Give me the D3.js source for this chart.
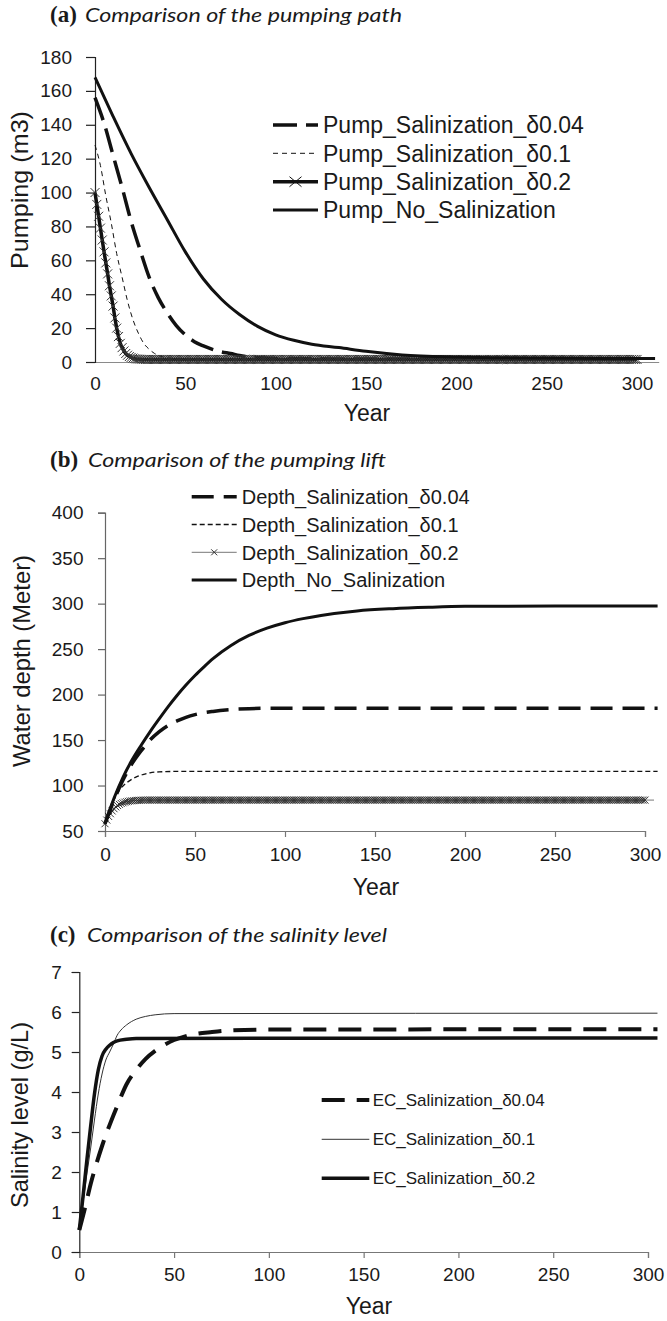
<!DOCTYPE html>
<html>
<head>
<meta charset="utf-8">
<script src="https://cdn.jsdelivr.net/npm/d3@7"></script>
<style>
  body { margin: 0; background: #fff; }
  svg text { fill: #1a1a1a; }
</style>
</head>
<body>
<svg id="chart" width="667" height="1321"></svg>
<script>
// ---------- data ----------
const yearTicks = [0, 50, 100, 150, 200, 250, 300];
const pumpTicks = [0, 20, 40, 60, 80, 100, 120, 140, 160, 180];
const depthTicks = [50, 100, 150, 200, 250, 300, 350, 400];
const ecTicks = [0, 1, 2, 3, 4, 5, 6, 7];

const pumpLabels = ["Pump_Salinization_δ0.04", "Pump_Salinization_δ0.1", "Pump_Salinization_δ0.2", "Pump_No_Salinization"];
const depthLabels = ["Depth_Salinization_δ0.04", "Depth_Salinization_δ0.1", "Depth_Salinization_δ0.2", "Depth_No_Salinization"];
const ecLabels = ["EC_Salinization_δ0.04", "EC_Salinization_δ0.1", "EC_Salinization_δ0.2"];

// (a) pumping, m3
const pumpNoSalYears = [0, 10, 20, 30, 40, 50, 60, 70, 80, 90, 100, 110, 120, 135, 150, 170, 200, 250, 310];
const pumpNoSal = [168, 145, 123, 103, 84, 65, 49, 37, 28, 21, 16, 12.8, 10.5, 8.5, 6.3, 4.2, 3, 2.3, 2];
const pumpD004Years = [0, 5, 10, 15, 20, 25, 30, 35, 40, 45, 50, 55, 60, 65, 70, 75, 80, 90, 100, 150, 200, 300];
const pumpD004 = [156, 141, 122, 103, 83, 66, 50, 38, 29, 21.5, 16, 12, 9.5, 7.5, 6, 5, 3.8, 2.6, 2.1, 1.8, 1.8, 1.8];
const pumpD01Years = [0, 3, 6, 9, 12, 15, 18, 21, 24, 27, 30, 33, 36, 40, 50, 100, 200, 300];
const pumpD01 = [128, 116, 98, 82, 64, 50, 36, 25, 17, 11, 7.5, 5, 3.5, 2.5, 1.8, 1.8, 1.8, 1.8];
// one value per year, year 0 .. 300
const pumpD02 = [
  100, 93, 86, 79, 72, 65, 58.5, 52, 45, 39, 33, 26, 20, 15, 11, 8.5, 6.5, 5, 4, 3.2, 2.7, 2.3, 2, 1.8, 1.7, 1.6,
  1.5, 1.5, 1.5, 1.5, 1.5, 1.5, 1.5, 1.5, 1.5, 1.5, 1.5, 1.5, 1.5, 1.5, 1.5, 1.5, 1.5, 1.5, 1.5, 1.5, 1.5, 1.5, 1.5, 1.5, 1.5,
  1.5, 1.5, 1.5, 1.5, 1.5, 1.5, 1.5, 1.5, 1.5, 1.5, 1.5, 1.5, 1.5, 1.5, 1.5, 1.5, 1.5, 1.5, 1.5, 1.5, 1.5, 1.5, 1.5, 1.5, 1.5,
  1.5, 1.5, 1.5, 1.5, 1.5, 1.5, 1.5, 1.5, 1.5, 1.5, 1.5, 1.5, 1.5, 1.5, 1.5, 1.5, 1.5, 1.5, 1.5, 1.5, 1.5, 1.5, 1.5, 1.5, 1.5,
  1.5, 1.5, 1.5, 1.5, 1.5, 1.5, 1.5, 1.5, 1.5, 1.5, 1.5, 1.5, 1.5, 1.5, 1.5, 1.5, 1.5, 1.5, 1.5, 1.5, 1.5, 1.5, 1.5, 1.5, 1.5,
  1.5, 1.5, 1.5, 1.5, 1.5, 1.5, 1.5, 1.5, 1.5, 1.5, 1.5, 1.5, 1.5, 1.5, 1.5, 1.5, 1.5, 1.5, 1.5, 1.5, 1.5, 1.5, 1.5, 1.5, 1.5,
  1.5, 1.5, 1.5, 1.5, 1.5, 1.5, 1.5, 1.5, 1.5, 1.5, 1.5, 1.5, 1.5, 1.5, 1.5, 1.5, 1.5, 1.5, 1.5, 1.5, 1.5, 1.5, 1.5, 1.5, 1.5,
  1.5, 1.5, 1.5, 1.5, 1.5, 1.5, 1.5, 1.5, 1.5, 1.5, 1.5, 1.5, 1.5, 1.5, 1.5, 1.5, 1.5, 1.5, 1.5, 1.5, 1.5, 1.5, 1.5, 1.5, 1.5,
  1.5, 1.5, 1.5, 1.5, 1.5, 1.5, 1.5, 1.5, 1.5, 1.5, 1.5, 1.5, 1.5, 1.5, 1.5, 1.5, 1.5, 1.5, 1.5, 1.5, 1.5, 1.5, 1.5, 1.5, 1.5,
  1.5, 1.5, 1.5, 1.5, 1.5, 1.5, 1.5, 1.5, 1.5, 1.5, 1.5, 1.5, 1.5, 1.5, 1.5, 1.5, 1.5, 1.5, 1.5, 1.5, 1.5, 1.5, 1.5, 1.5, 1.5,
  1.5, 1.5, 1.5, 1.5, 1.5, 1.5, 1.5, 1.5, 1.5, 1.5, 1.5, 1.5, 1.5, 1.5, 1.5, 1.5, 1.5, 1.5, 1.5, 1.5, 1.5, 1.5, 1.5, 1.5, 1.5,
  1.5, 1.5, 1.5, 1.5, 1.5, 1.5, 1.5, 1.5, 1.5, 1.5, 1.5, 1.5, 1.5, 1.5, 1.5, 1.5, 1.5, 1.5, 1.5, 1.5, 1.5, 1.5, 1.5, 1.5, 1.5
];

// (b) water depth, meter
const depthNoSalYears = [0, 5, 10, 15, 20, 25, 30, 35, 40, 45, 50, 55, 60, 70, 80, 90, 100, 110, 120, 140, 160, 180, 200, 250, 307];
const depthNoSal = [58, 86, 109, 128, 144, 159, 173, 186.5, 199, 210.5, 221, 230.5, 239.5, 254, 265, 273, 279, 283.5, 287, 292, 294.5, 296, 297, 297.5, 297.5];
const depthD004Years = [0, 5, 10, 15, 20, 25, 30, 35, 40, 45, 50, 60, 70, 80, 90, 307];
const depthD004 = [58, 84, 106, 124, 138, 150, 159, 166, 171, 175, 178, 181.5, 183.5, 184.5, 185, 185];
const depthD01Years = [0, 2, 4, 6, 8, 10, 12, 15, 18, 21, 25, 30, 40, 307];
const depthD01 = [58, 70, 80, 88, 95, 99.5, 103, 107, 110, 112, 114, 115, 115.5, 115.5];
// one value per year, year 0 .. 300
const depthD02 = [
  58, 62, 66, 69, 72, 74.5, 76.5, 78, 79.3, 80.3, 81, 81.7, 82.2, 82.6, 83, 83.2, 83.4, 83.6, 83.7, 83.8, 83.9,
  84, 84, 84, 84, 84, 84, 84, 84, 84, 84, 84, 84, 84, 84, 84, 84, 84, 84, 84, 84, 84, 84, 84, 84, 84,
  84, 84, 84, 84, 84, 84, 84, 84, 84, 84, 84, 84, 84, 84, 84, 84, 84, 84, 84, 84, 84, 84, 84, 84, 84,
  84, 84, 84, 84, 84, 84, 84, 84, 84, 84, 84, 84, 84, 84, 84, 84, 84, 84, 84, 84, 84, 84, 84, 84, 84,
  84, 84, 84, 84, 84, 84, 84, 84, 84, 84, 84, 84, 84, 84, 84, 84, 84, 84, 84, 84, 84, 84, 84, 84, 84,
  84, 84, 84, 84, 84, 84, 84, 84, 84, 84, 84, 84, 84, 84, 84, 84, 84, 84, 84, 84, 84, 84, 84, 84, 84,
  84, 84, 84, 84, 84, 84, 84, 84, 84, 84, 84, 84, 84, 84, 84, 84, 84, 84, 84, 84, 84, 84, 84, 84, 84,
  84, 84, 84, 84, 84, 84, 84, 84, 84, 84, 84, 84, 84, 84, 84, 84, 84, 84, 84, 84, 84, 84, 84, 84, 84,
  84, 84, 84, 84, 84, 84, 84, 84, 84, 84, 84, 84, 84, 84, 84, 84, 84, 84, 84, 84, 84, 84, 84, 84, 84,
  84, 84, 84, 84, 84, 84, 84, 84, 84, 84, 84, 84, 84, 84, 84, 84, 84, 84, 84, 84, 84, 84, 84, 84, 84,
  84, 84, 84, 84, 84, 84, 84, 84, 84, 84, 84, 84, 84, 84, 84, 84, 84, 84, 84, 84, 84, 84, 84, 84, 84,
  84, 84, 84, 84, 84, 84, 84, 84, 84, 84, 84, 84, 84, 84, 84, 84, 84, 84, 84, 84, 84, 84, 84, 84, 84,
  84, 84, 84, 84, 84
];
const depthD02TailYears = [300, 305];
const depthD02Tail = [84, 84];

// (c) salinity, g/L
const ecD004Years = [0, 3, 6, 9, 12, 15, 20, 25, 30, 35, 40, 45, 50, 55, 60, 70, 80, 100, 305];
const ecD004 = [0.55, 1.1, 1.7, 2.2, 2.65, 3.05, 3.65, 4.2, 4.55, 4.83, 5.03, 5.18, 5.3, 5.38, 5.44, 5.5, 5.54, 5.56, 5.57];
const ecD01Years = [0, 2, 4, 6, 8, 10, 12, 14, 16, 18, 20, 22, 25, 30, 35, 40, 50, 305];
const ecD01 = [0.55, 1.25, 1.95, 2.6, 3.3, 3.95, 4.45, 4.8, 5.0, 5.2, 5.42, 5.55, 5.68, 5.82, 5.89, 5.93, 5.96, 5.97];
const ecD02Years = [0, 2, 4, 6, 8, 10, 12, 14, 16, 18, 20, 25, 30, 305];
const ecD02 = [0.55, 1.4, 2.3, 3.15, 3.95, 4.55, 4.9, 5.07, 5.17, 5.24, 5.28, 5.32, 5.34, 5.35];

// ---------- drawing ----------
const FONT = '"Liberation Sans", Arial, sans-serif';
const INK = "#111";
const svg = d3.select("#chart");

const xA = d3.scaleLinear().domain([0, 312]).range([95, 658.7]);
const yA = d3.scaleLinear().domain([0, 180]).range([362, 57]);
const xB = d3.scaleLinear().domain([0, 300]).range([105, 645]);
const yB = d3.scaleLinear().domain([50, 400]).range([831, 512.7]);
const xC = d3.scaleLinear().domain([0, 300]).range([79.3, 648]);
const yC = d3.scaleLinear().domain([0, 7]).range([1252, 972]);

function addAxis(gen, tx, ty, color) {
  const g = svg.append("g")
    .attr("transform", `translate(${tx},${ty})`)
    .call(gen.tickFormat(d3.format("d")))
    .attr("font-family", FONT)
    .attr("font-size", 19);
  g.select(".domain").attr("stroke", color).attr("stroke-width", 1.2);
  g.selectAll(".tick line").attr("stroke", color).attr("stroke-width", 1.2);
  g.selectAll(".tick text").attr("fill", "#1a1a1a");
  return g;
}

function title(letter, text, x, xi, y, len) {
  svg.append("text").attr("x", x).attr("y", y)
    .style("font-family", '"Liberation Serif", "Times New Roman", serif')
    .style("font-weight", "bold").style("font-size", "23px")
    .text(letter);
  svg.append("text").attr("x", xi).attr("y", y)
    .style("font-family", 'Lato, "Open Sans", sans-serif')
    .style("font-style", "italic").style("font-size", "19px")
    .attr("textLength", len).attr("lengthAdjust", "spacingAndGlyphs")
    .text(text);
}

function yTitle(text, x, y, len) {
  svg.append("text")
    .attr("transform", `translate(${x},${y}) rotate(-90)`)
    .attr("text-anchor", "middle")
    .style("font-family", FONT).style("font-size", "24px")
    .attr("textLength", len).attr("lengthAdjust", "spacingAndGlyphs")
    .text(text);
}

function xTitle(x, y) {
  svg.append("text").attr("x", x).attr("y", y)
    .attr("text-anchor", "middle")
    .style("font-family", FONT).style("font-size", "23px")
    .text("Year");
}

function series(xs, ys, years, values, st) {
  const pts = values.map((v, i) => [years ? years[i] : i, v]);
  const line = d3.line()
    .x(d => xs(d[0])).y(d => ys(d[1]))
    .curve(years ? d3.curveMonotoneX : d3.curveLinear);
  svg.append("path").datum(pts)
    .attr("fill", "none")
    .attr("stroke", st.color || INK)
    .attr("stroke-width", st.width)
    .attr("stroke-dasharray", st.dash || null)
    .attr("stroke-linejoin", "round")
    .attr("d", line);
  return pts;
}

function crossPath(hw, hh) {
  return `M${-hw},${-hh}L${hw},${hh}M${-hw},${hh}L${hw},${-hh}`;
}

function markers(xs, ys, pts, hw, hh, color, w) {
  svg.append("g").selectAll("path").data(pts).join("path")
    .attr("d", crossPath(hw, hh))
    .attr("transform", d => `translate(${xs(d[0])},${ys(d[1])})`)
    .attr("fill", "none").attr("stroke", color).attr("stroke-width", w);
}

function legend(labels, styles, x1, x2, tx, rows, size) {
  labels.forEach((lab, i) => {
    const st = styles[i];
    const y = rows[i];
    svg.append("line").attr("x1", x1).attr("x2", x2).attr("y1", y).attr("y2", y)
      .attr("stroke", st.color || INK).attr("stroke-width", st.width)
      .attr("stroke-dasharray", st.dash || null);
    if (st.mark) {
      svg.append("path").attr("d", crossPath(st.mark[0], st.mark[1]))
        .attr("transform", `translate(${(x1 + x2) / 2},${y})`)
        .attr("fill", "none").attr("stroke", st.markColor || INK).attr("stroke-width", 1);
    }
    svg.append("text").attr("x", tx).attr("y", y).attr("dy", "0.36em")
      .style("font-family", FONT).style("font-size", size + "px")
      .text(lab);
  });
}

// ----- panel (a) -----
title("(a)", "Comparison of the pumping path", 50, 85, 22, 317);
addAxis(d3.axisBottom(xA).tickValues(yearTicks).tickSize(0).tickSizeOuter(0).tickPadding(15), 0, 362, "#8a8a8a");
addAxis(d3.axisLeft(yA).tickValues(pumpTicks).tickSize(9).tickPadding(14), 95, 0, "#222");

const stA = [
  { width: 3.5, dash: "24,9" },
  { width: 1, dash: "5,4" },
  { width: 3.5, mark: [6, 5] },
  { width: 3 }
];
series(xA, yA, pumpD01Years, pumpD01, stA[1]);
series(xA, yA, pumpD004Years, pumpD004, stA[0]);
const pA2 = series(xA, yA, null, pumpD02, stA[2]);
markers(xA, yA, pA2, 4.5, 4.5, "#333", 1);
series(xA, yA, pumpNoSalYears, pumpNoSal, stA[3]);

legend(pumpLabels, stA, 273, 318, 323, [125, 153.3, 181.7, 210], 23);
yTitle("Pumping (m3)", 28, 190, 158);
xTitle(367, 421);

// ----- panel (b) -----
title("(b)", "Comparison of the pumping lift", 50, 88, 467, 298);
addAxis(d3.axisBottom(xB).tickValues(yearTicks).tickSize(6).tickPadding(11), 0, 831, "#777");
addAxis(d3.axisLeft(yB).tickValues(depthTicks).tickSize(7).tickPadding(14.5), 105, 0, "#666");

const stB = [
  { width: 3.5, dash: "22,10" },
  { width: 1.3, dash: "5,3" },
  { width: 1, color: "#777", mark: [3, 3], markColor: "#333" },
  { width: 3 }
];
series(xB, yB, depthD01Years, depthD01, stB[1]);
const pB2 = series(xB, yB, null, depthD02, stB[2]);
series(xB, yB, depthD02TailYears, depthD02Tail, stB[2]);
markers(xB, yB, pB2, 3.5, 3.5, "#222", 0.9);
series(xB, yB, depthD004Years, depthD004, stB[0]);
series(xB, yB, depthNoSalYears, depthNoSal, stB[3]);

legend(depthLabels, stB, 191.7, 236.7, 241.7, [496.7, 524.5, 552.3, 580], 20);
yTitle("Water depth (Meter)", 30, 661, 212);
xTitle(376, 895);

// ----- panel (c) -----
title("(c)", "Comparison of the salinity level", 50, 87, 942, 300);
addAxis(d3.axisBottom(xC).tickValues(yearTicks).tickSize(6).tickPadding(10), 0, 1252, "#777");
addAxis(d3.axisLeft(yC).tickValues(ecTicks).tickSize(7.6).tickPadding(10), 79.3, 0, "#222");

const stC = [
  { width: 4, dash: "23,12" },
  { width: 1, color: "#333" },
  { width: 3.5 }
];
series(xC, yC, ecD01Years, ecD01, stC[1]);
series(xC, yC, ecD004Years, ecD004, stC[0]);
series(xC, yC, ecD02Years, ecD02, stC[2]);

legend(ecLabels, stC, 321.7, 369.3, 372.7, [1100, 1139.3, 1178.3], 17);
yTitle("Salinity level (g/L)", 28, 1115, 186);
xTitle(369, 1314);
</script>
</body>
</html>
